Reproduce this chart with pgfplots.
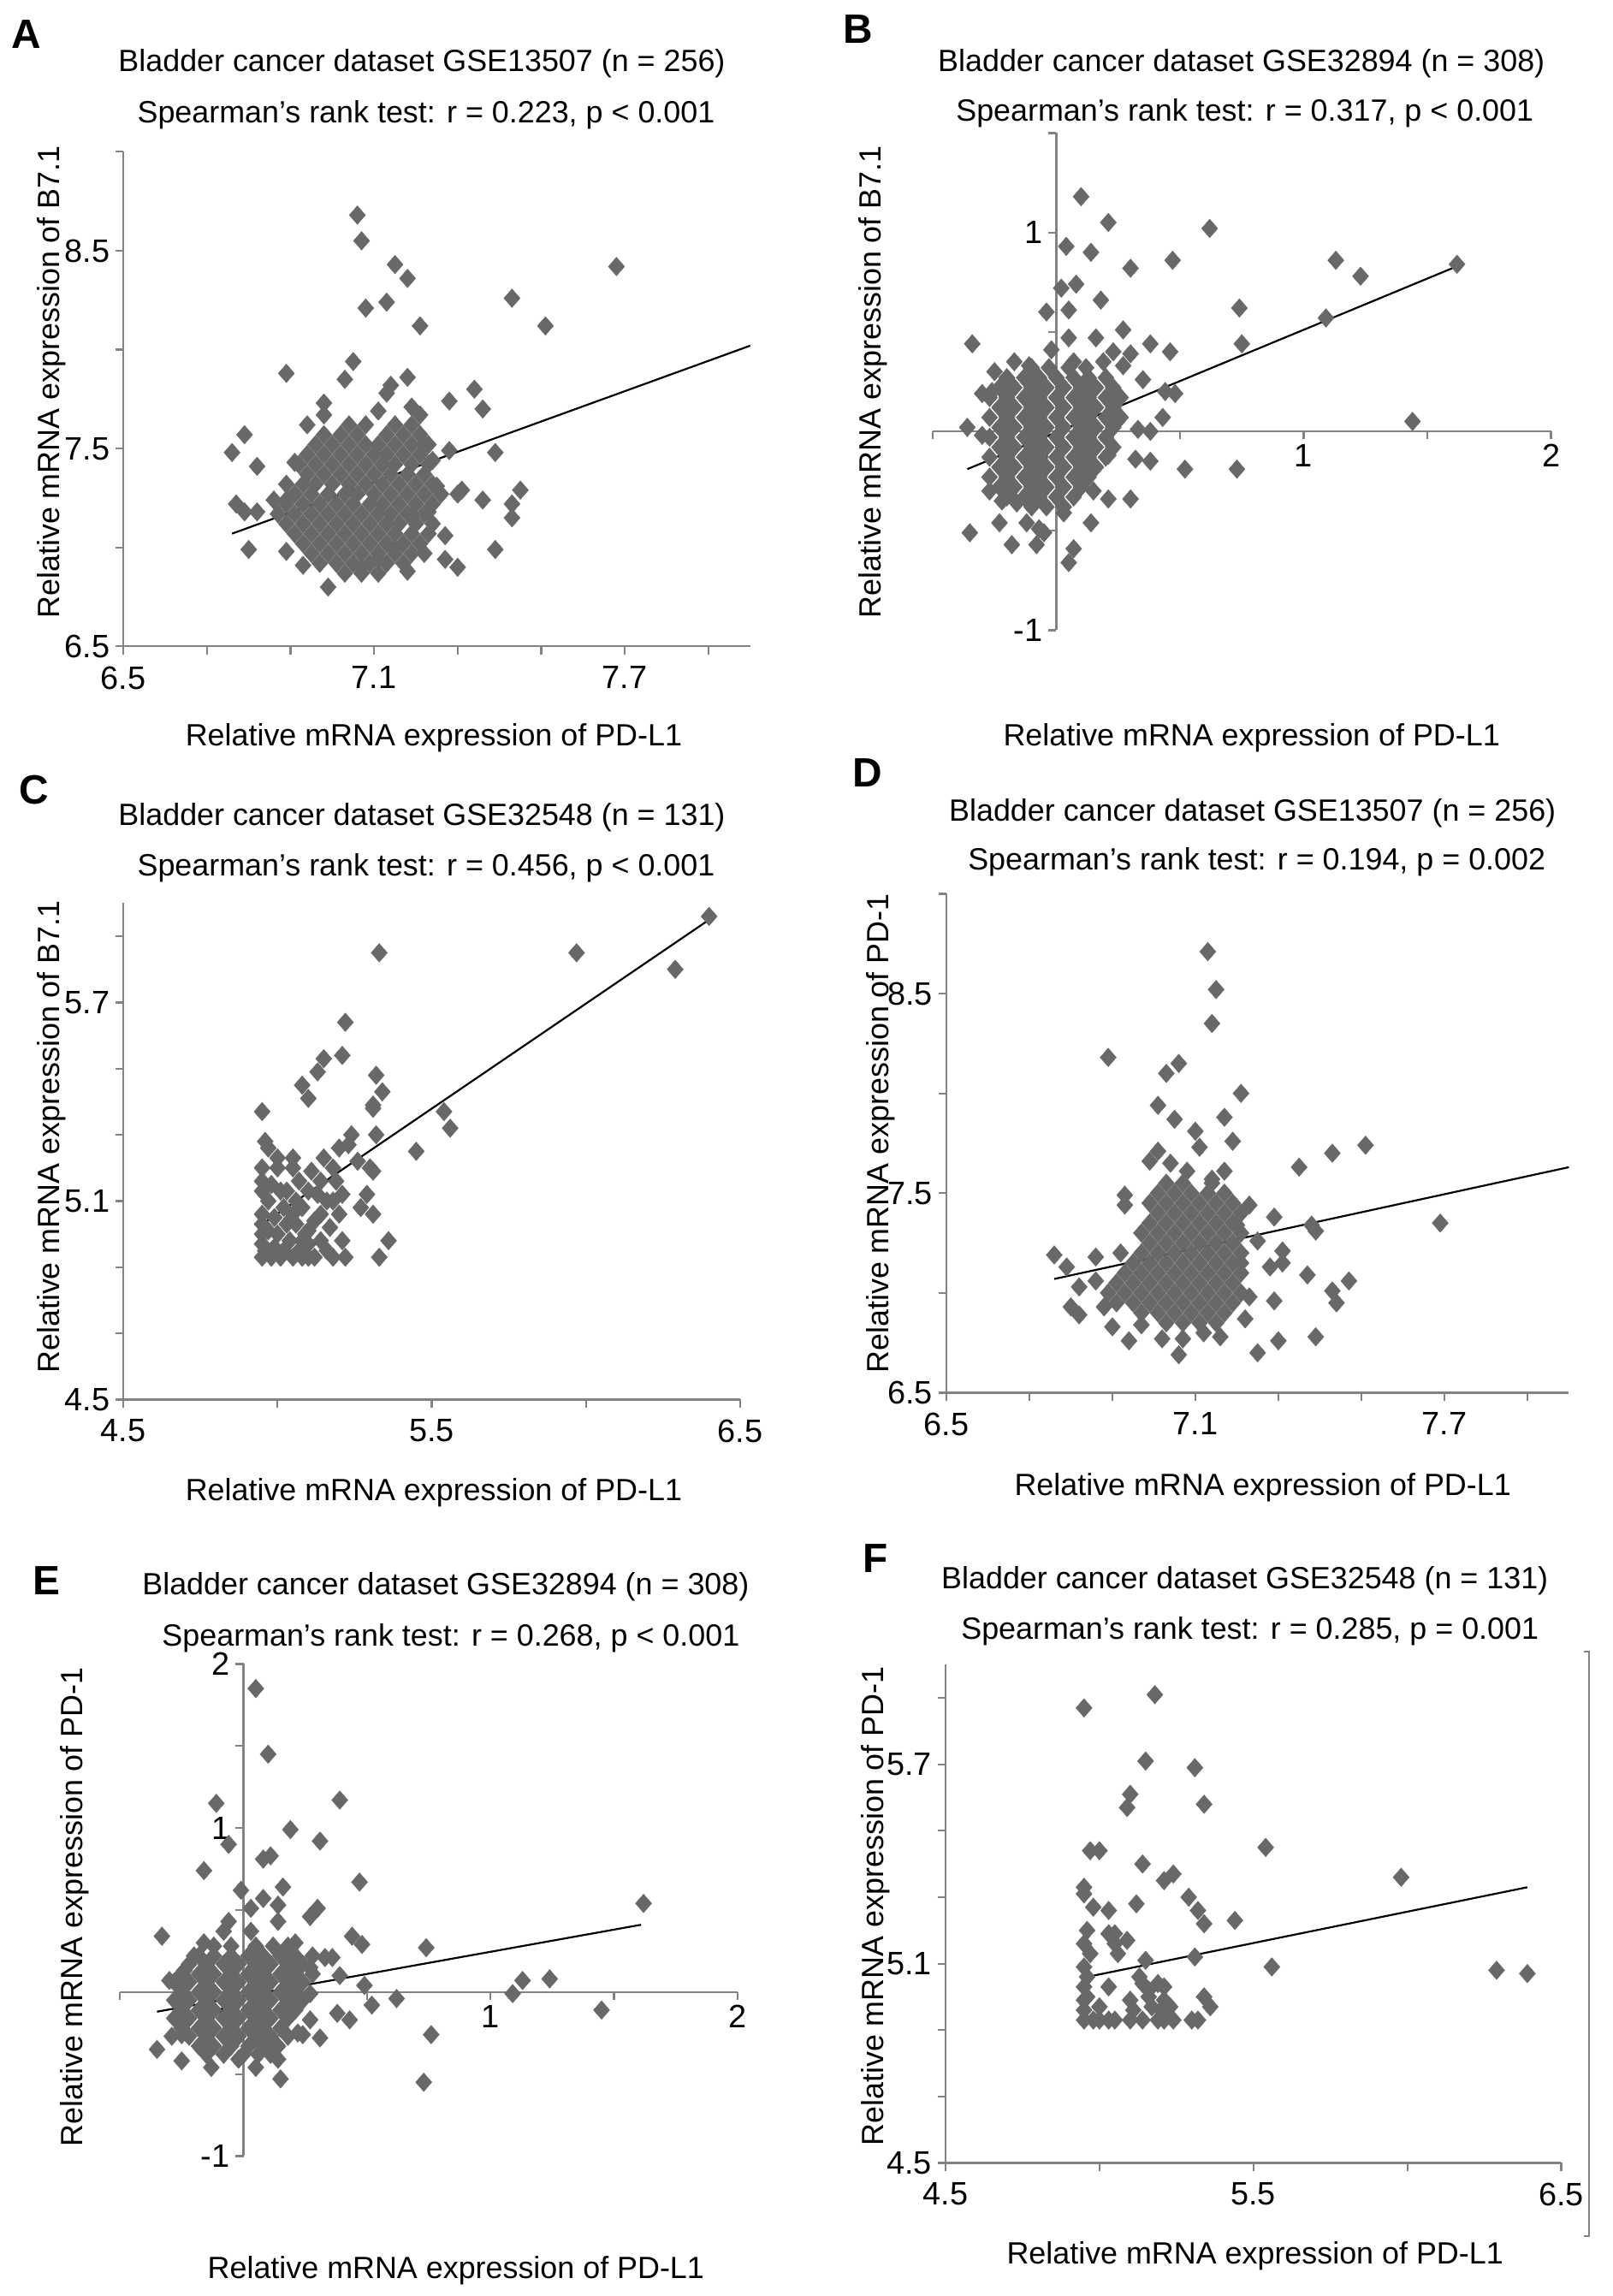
\documentclass[border=0pt]{standalone}
\usepackage{fontspec}
\setmainfont{Liberation Sans}
\usepackage{pgfplots}
\pgfplotsset{compat=1.18}
\definecolor{mk}{RGB}{104,104,104}
\definecolor{ax}{RGB}{130,130,130}
\pgfplotsset{
  panel/.style={scale only axis, anchor=south west, clip=false,
    axis line style={ax, line width=0.55pt},
    tick style={ax, line width=0.55pt},
    tick align=outside, major tick length=2.3pt,
    tick label style={font=\fontsize{9.5}{11}\selectfont, black},
    yticklabel style={xshift=1.8pt},
    /pgf/number format/assume math mode=true},
  boxed/.style={panel, axis lines*=left},
  mid/.style={panel, axis lines*=middle, hide obscured x ticks=false, hide obscured y ticks=false,
    xticklabel style={yshift=2pt}},
  pts/.style={only marks, mark=square*, mark size=1.68pt, color=mk,
    mark options={yscale=1.15, rotate=45, fill=mk, draw=mk, line width=0.1pt}},
  fit/.style={black, line width=0.55pt, no marks},
}
\newcommand\tf{\fontsize{9}{11}\selectfont}
\newcommand\lf{\fontsize{12}{14}\selectfont\bfseries}
\begin{document}
\begin{tikzpicture}
\path (0,0) rectangle (472.5pt,670.75pt);
% ---------------- Panel A ----------------
\node[font=\lf] at (7.5pt,660.75pt) {A};
\node[font=\tf] at (123.5pt,652pt) {Bladder cancer dataset GSE13507 (n = 256)};
\node[font=\tf] at (124.75pt,637pt) {Spearman’s rank test: r = 0.223, p < 0.001};
\node[font=\tf, rotate=90] at (15pt,558.75pt) {Relative mRNA expression of B7.1};
\node[font=\tf] at (127pt,454.5pt) {Relative mRNA expression of PD-L1};
\begin{axis}[boxed, at={(36pt,481.25pt)}, width=183.75pt, height=145pt,
  xmin=6.5, xmax=8.0, ymin=6.5, ymax=9.0,
  xtick={6.5,6.7,6.9,7.1,7.3,7.5,7.7,7.9}, xticklabels={6.5,,,7.1,,,7.7,},
  ytick={6.5,7,7.5,8,8.5,9}, yticklabels={6.5,,7.5,,8.5,}]
\addplot[pts] coordinates {
(7.06,8.68)(7.07,8.55)(7.15,8.43)(7.18,8.36)(7.13,8.24)(7.08,8.21)(7.21,8.12)(7.43,8.26)(7.51,8.12)(7.68,8.42)
(6.89,7.88)(7.05,7.94)(7.03,7.85)(7.13,7.78)(7.14,7.82)(7.18,7.86)(7.34,7.80)(7.28,7.74)(7.36,7.70)(6.98,7.73)
(6.98,7.67)(6.94,7.62)(7.11,7.69)(7.19,7.71)(7.21,7.67)(6.79,7.57)(6.76,7.48)(6.82,7.41)(6.91,7.43)(7.28,7.49)
(7.39,7.48)(7.22,7.52)(7.24,7.44)(6.77,7.22)(6.79,7.18)(6.82,7.18)(6.86,7.24)(6.89,7.24)(6.80,6.99)(6.89,6.98)
(7.25,7.31)(7.31,7.29)(7.30,7.27)(7.36,7.24)(7.43,7.22)(7.45,7.29)(7.43,7.15)(7.39,6.99)(7.23,7.18)(7.19,7.16)
(7.27,7.06)(7.27,6.94)(7.30,6.90)(7.22,6.97)(7.18,6.88)(6.99,6.80)(6.93,6.91)(7.07,6.90)(7.11,6.94)(7.15,6.99)
(7.04,7.62)(7.08,7.62)(7.15,7.62)(7.19,7.62)
(6.98,7.57)(7.02,7.57)(7.06,7.57)(7.13,7.57)(7.17,7.57)(7.21,7.57)
(6.96,7.52)(7.00,7.52)(7.04,7.52)(7.08,7.52)(7.11,7.52)(7.15,7.52)(7.19,7.52)(7.23,7.52)
(6.94,7.47)(6.98,7.47)(7.02,7.47)(7.06,7.47)(7.10,7.47)(7.13,7.47)(7.17,7.47)(7.21,7.47)
(6.92,7.42)(6.96,7.42)(7.00,7.42)(7.04,7.42)(7.08,7.42)(7.12,7.42)(7.15,7.42)(7.19,7.42)(7.23,7.42)
(6.94,7.37)(6.98,7.37)(7.02,7.37)(7.06,7.37)(7.10,7.37)(7.14,7.37)(7.18,7.37)(7.22,7.37)
(6.89,7.32)(6.93,7.32)(6.96,7.32)(7.00,7.32)(7.04,7.32)(7.08,7.32)(7.12,7.32)(7.16,7.32)(7.20,7.32)(7.24,7.32)
(6.91,7.27)(6.95,7.27)(6.99,7.27)(7.03,7.27)(7.06,7.27)(7.10,7.27)(7.14,7.27)(7.18,7.27)(7.22,7.27)(7.26,7.27)
(6.89,7.22)(6.93,7.22)(6.97,7.22)(7.01,7.22)(7.05,7.22)(7.09,7.22)(7.12,7.22)(7.16,7.22)(7.20,7.22)(7.24,7.22)
(6.87,7.17)(6.91,7.17)(6.95,7.17)(6.99,7.17)(7.03,7.17)(7.07,7.17)(7.11,7.17)(7.14,7.17)(7.18,7.17)(7.22,7.17)
(6.89,7.12)(6.93,7.12)(6.97,7.12)(7.01,7.12)(7.05,7.12)(7.09,7.12)(7.13,7.12)(7.16,7.12)(7.20,7.12)(7.24,7.12)
(6.91,7.07)(6.95,7.07)(6.99,7.07)(7.03,7.07)(7.07,7.07)(7.11,7.07)(7.15,7.07)(7.19,7.07)(7.23,7.07)
(6.93,7.02)(6.97,7.02)(7.01,7.02)(7.05,7.02)(7.09,7.02)(7.13,7.02)(7.17,7.02)(7.21,7.02)
(6.95,6.97)(6.99,6.97)(7.03,6.97)(7.07,6.97)(7.11,6.97)(7.15,6.97)(7.19,6.97)
(6.97,6.92)(7.01,6.92)(7.05,6.92)(7.09,6.92)(7.13,6.92)(7.17,6.92)
(7.03,6.87)(7.07,6.87)(7.11,6.87)
};
\addplot[fit] coordinates {(6.76,7.07)(8.0,8.02)};
\end{axis}
% ---------------- Panel B ----------------
\node[font=\lf] at (251.25pt,662.25pt) {B};
\node[font=\tf] at (363.75pt,652pt) {Bladder cancer dataset GSE32894 (n = 308)};
\node[font=\tf] at (364.75pt,637.5pt) {Spearman’s rank test: r = 0.317, p < 0.001};
\node[font=\tf, rotate=90] at (255.75pt,558.75pt) {Relative mRNA expression of B7.1};
\node[font=\tf] at (366.75pt,454.5pt) {Relative mRNA expression of PD-L1};
\begin{axis}[mid, at={(273.25pt,486pt)}, width=181.25pt, height=145.75pt,
  xmin=-0.5, xmax=2, ymin=-1, ymax=1.5,
  xtick={-0.5,0,0.5,1,1.5,2}, xticklabels={,\makebox[0pt][r]{0\hspace{1.9pt}},,1,,2},
  ytick={-1,-0.5,0,0.5,1,1.5}, yticklabels={-1,,,,1,}]
\addplot[pts] coordinates {
(0.10,1.18)(0.21,1.05)(0.62,1.02)(0.04,0.93)(0.14,0.90)(0.30,0.82)(0.47,0.86)(1.13,0.86)(1.23,0.78)(1.62,0.84)
(0.02,0.72)(0.08,0.74)(0.18,0.66)(-0.04,0.60)(0.05,0.61)(0.74,0.62)(1.09,0.57)(0.27,0.51)(-0.34,0.44)(0.05,0.47)
(0.16,0.47)(0.38,0.44)(0.75,0.44)(0.46,0.40)(0.23,0.40)(0.30,0.39)(-0.02,0.41)(-0.17,0.35)(-0.25,0.30)(-0.11,0.33)
(0.07,0.35)(0.19,0.35)(0.27,0.33)(0.35,0.26)(-0.30,0.19)(-0.26,0.20)(0.44,0.20)(0.48,0.19)(0.43,0.07)(0.38,0.00)
(0.33,0.01)(-0.36,0.02)(-0.30,-0.02)(1.44,0.05)(0.52,-0.19)(0.73,-0.19)(0.21,-0.12)(0.32,-0.14)(0.38,-0.15)(0.30,-0.34)
(0.21,-0.34)(0.15,-0.30)(0.14,-0.46)(0.03,-0.41)(-0.07,-0.49)(-0.12,-0.46)(-0.23,-0.46)(-0.35,-0.51)(-0.18,-0.57)(-0.08,-0.57)
(-0.05,-0.51)(0.07,-0.59)(0.05,-0.66)(-0.27,-0.30)(-0.22,-0.35)(-0.16,-0.36)
(-0.10,0.32)(-0.03,0.32)(0.05,0.32)(0.12,0.32)
(-0.20,0.27)(-0.13,0.27)(-0.07,0.27)(0.00,0.27)(0.07,0.27)(0.13,0.27)(0.20,0.27)
(-0.23,0.22)(-0.17,0.22)(-0.10,0.22)(-0.04,0.22)(0.03,0.22)(0.10,0.22)(0.16,0.22)(0.23,0.22)
(-0.27,0.17)(-0.20,0.17)(-0.13,0.17)(-0.07,0.17)(0.00,0.17)(0.07,0.17)(0.13,0.17)(0.20,0.17)(0.26,0.17)
(-0.23,0.12)(-0.17,0.12)(-0.10,0.12)(-0.04,0.12)(0.03,0.12)(0.10,0.12)(0.16,0.12)(0.23,0.12)
(-0.27,0.07)(-0.20,0.07)(-0.13,0.07)(-0.07,0.07)(0.00,0.07)(0.07,0.07)(0.13,0.07)(0.20,0.07)(0.26,0.07)
(-0.23,0.02)(-0.17,0.02)(-0.10,0.02)(-0.04,0.02)(0.03,0.02)(0.10,0.02)(0.16,0.02)(0.23,0.02)
(-0.27,-0.03)(-0.20,-0.03)(-0.13,-0.03)(-0.07,-0.03)(0.00,-0.03)(0.07,-0.03)(0.13,-0.03)(0.20,-0.03)
(-0.23,-0.08)(-0.17,-0.08)(-0.10,-0.08)(-0.04,-0.08)(0.03,-0.08)(0.10,-0.08)(0.16,-0.08)(0.23,-0.08)
(-0.27,-0.13)(-0.20,-0.13)(-0.13,-0.13)(-0.07,-0.13)(0.00,-0.13)(0.07,-0.13)(0.13,-0.13)(0.20,-0.13)
(-0.23,-0.18)(-0.17,-0.18)(-0.10,-0.18)(-0.04,-0.18)(0.03,-0.18)(0.10,-0.18)(0.16,-0.18)
(-0.27,-0.23)(-0.20,-0.23)(-0.13,-0.23)(-0.07,-0.23)(0.00,-0.23)(0.07,-0.23)(0.13,-0.23)
(-0.23,-0.28)(-0.17,-0.28)(-0.10,-0.28)(-0.04,-0.28)(0.03,-0.28)(0.10,-0.28)
(-0.20,-0.33)(-0.13,-0.33)(-0.07,-0.33)(0.00,-0.33)(0.07,-0.33)
(-0.10,-0.38)(-0.04,-0.38)(0.03,-0.38)
};
\addplot[fit] coordinates {(-0.36,-0.19)(1.62,0.83)};
\end{axis}
% ---------------- Panel C ----------------
\node[font=\lf] at (9.75pt,439.25pt) {C};
\node[font=\tf] at (123.5pt,431.25pt) {Bladder cancer dataset GSE32548 (n = 131)};
\node[font=\tf] at (124.75pt,416.25pt) {Spearman’s rank test: r = 0.456, p < 0.001};
\node[font=\tf, rotate=90] at (15pt,337.5pt) {Relative mRNA expression of B7.1};
\node[font=\tf] at (127pt,233.25pt) {Relative mRNA expression of PD-L1};
\begin{axis}[boxed, at={(36pt,260.5pt)}, width=180.75pt, height=145.5pt,
  xmin=4.5, xmax=6.5, ymin=4.5, ymax=6.0,
  xtick={4.5,5,5.5,6,6.5}, xticklabels={4.5,,5.5,,6.5},
  ytick={4.5,4.7,4.9,5.1,5.3,5.5,5.7,5.9}, yticklabels={4.5,,,5.1,,,5.7,}]
\addplot[pts] coordinates {
(6.40,5.96)(5.97,5.85)(6.29,5.80)(5.33,5.85)(5.22,5.64)(5.21,5.54)(5.15,5.53)(5.13,5.49)(5.08,5.45)(5.10,5.41)
(5.32,5.48)(5.34,5.43)(5.31,5.39)(5.31,5.38)(4.95,5.37)(5.54,5.37)(5.56,5.32)(5.45,5.25)(5.32,5.30)(5.24,5.30)
(5.23,5.27)(5.20,5.26)(4.96,5.28)(4.97,5.26)(5.00,5.23)(5.05,5.23)(4.95,5.20)(5.00,5.20)(5.05,5.20)(5.15,5.23)
(5.11,5.19)(5.07,5.16)(5.14,5.16)(5.19,5.16)(5.30,5.20)(5.31,5.19)(4.95,5.16)(4.95,5.13)(4.98,5.15)(5.03,5.13)
(5.10,5.13)(5.29,5.12)(5.16,5.10)(5.20,5.06)(5.14,5.06)(5.08,5.08)(5.31,5.06)(4.95,5.06)(4.99,5.05)(5.03,5.03)
(5.06,5.03)(4.95,5.03)(4.95,5.00)(5.00,5.00)(5.04,4.98)(5.10,5.01)(5.14,4.98)(5.21,4.98)(5.36,4.98)(4.95,4.97)
(4.99,4.96)(5.10,4.97)
(4.95,4.93)(4.98,4.93)(5.01,4.93)(5.05,4.93)(5.08,4.93)(5.10,4.93)(5.12,4.93)(5.18,4.93)(5.22,4.93)(5.33,4.93)
(4.96,4.95)(5.02,4.95)(5.07,4.95)
(5.02,5.08)(5.06,5.10)(4.97,5.10)(5.01,5.13)(5.09,5.00)(5.12,5.04)(5.17,5.02)(5.05,5.06)(4.97,5.01)(5.08,4.98)
(5.16,4.95)(5.13,5.12)(5.18,5.20)(5.26,5.22)(5.27,5.08)(5.21,5.12)(5.18,5.10)
};
\addplot[fit] coordinates {(4.95,5.03)(6.40,5.95)};
\end{axis}
% ---------------- Panel D ----------------
\node[font=\lf] at (254.25pt,444.25pt) {D};
\node[font=\tf] at (367pt,432.5pt) {Bladder cancer dataset GSE13507 (n = 256)};
\node[font=\tf] at (368.25pt,418pt) {Spearman’s rank test: r = 0.194, p = 0.002};
\node[font=\tf, rotate=90] at (258pt,338.5pt) {Relative mRNA expression of PD-1};
\node[font=\tf] at (370pt,234.75pt) {Relative mRNA expression of PD-L1};
\begin{axis}[boxed, at={(277.25pt,262.5pt)}, width=182.5pt, height=146.25pt,
  xmin=6.5, xmax=8.0, ymin=6.5, ymax=9.0,
  xtick={6.5,6.7,6.9,7.1,7.3,7.5,7.7,7.9}, xticklabels={6.5,,,7.1,,,7.7,},
  ytick={6.5,7,7.5,8,8.5,9}, yticklabels={6.5,,7.5,,8.5,}]
\addplot[pts] coordinates {
(7.13,8.71)(7.15,8.52)(7.14,8.35)(6.89,8.18)(7.06,8.15)(7.03,8.10)(7.21,8.00)(7.01,7.94)(7.05,7.87)(7.17,7.88)
(7.10,7.81)(7.11,7.73)(7.19,7.76)(7.43,7.70)(7.51,7.74)(7.35,7.63)(6.99,7.66)(7.01,7.71)(7.04,7.65)(7.08,7.61)
(7.17,7.61)(7.14,7.57)(6.93,7.49)(6.93,7.44)(7.29,7.38)(7.69,7.35)(7.38,7.34)(7.39,7.31)(7.23,7.44)(7.20,7.34)
(7.25,7.26)(6.76,7.19)(6.79,7.13)(6.86,7.18)(6.92,7.20)(6.82,7.03)(6.86,7.06)(6.80,6.93)(6.82,6.89)(6.88,6.93)
(6.90,6.83)(6.94,6.76)(6.97,6.84)(7.02,6.77)(7.06,6.69)(7.07,6.77)(7.12,6.80)(7.16,6.78)(7.25,6.70)(7.30,6.76)
(7.39,6.78)(7.37,7.09)(7.43,7.01)(7.44,6.95)(7.47,7.06)(7.29,6.96)(7.23,6.98)(7.22,6.87)(7.31,7.15)(7.28,7.13)
(7.21,7.15)(7.31,7.21)
(7.03,7.55)(7.07,7.55)(7.14,7.55)
(7.01,7.50)(7.05,7.50)(7.09,7.50)(7.13,7.50)(7.17,7.50)
(6.99,7.45)(7.03,7.45)(7.07,7.45)(7.11,7.45)(7.15,7.45)(7.19,7.45)
(7.01,7.40)(7.05,7.40)(7.09,7.40)(7.13,7.40)(7.17,7.40)(7.21,7.40)
(6.99,7.35)(7.03,7.35)(7.07,7.35)(7.11,7.35)(7.15,7.35)(7.19,7.35)
(6.97,7.30)(7.01,7.30)(7.05,7.30)(7.09,7.30)(7.13,7.30)(7.17,7.30)(7.21,7.30)
(6.99,7.25)(7.03,7.25)(7.07,7.25)(7.11,7.25)(7.15,7.25)(7.19,7.25)
(6.97,7.20)(7.01,7.20)(7.05,7.20)(7.09,7.20)(7.13,7.20)(7.17,7.20)(7.21,7.20)
(6.95,7.15)(6.99,7.15)(7.03,7.15)(7.07,7.15)(7.11,7.15)(7.15,7.15)(7.19,7.15)
(6.93,7.10)(6.97,7.10)(7.01,7.10)(7.05,7.10)(7.09,7.10)(7.13,7.10)(7.17,7.10)(7.21,7.10)
(6.91,7.05)(6.95,7.05)(6.99,7.05)(7.03,7.05)(7.07,7.05)(7.11,7.05)(7.15,7.05)(7.19,7.05)
(6.89,7.00)(6.93,7.00)(6.97,7.00)(7.01,7.00)(7.05,7.00)(7.09,7.00)(7.13,7.00)(7.17,7.00)(7.21,7.00)
(6.91,6.95)(6.95,6.95)(6.99,6.95)(7.03,6.95)(7.07,6.95)(7.11,6.95)(7.15,6.95)(7.19,6.95)
(6.97,6.90)(7.01,6.90)(7.05,6.90)(7.09,6.90)(7.13,6.90)(7.17,6.90)
(7.03,6.85)(7.07,6.85)(7.11,6.85)(7.15,6.85)
};
\addplot[fit] coordinates {(6.76,7.07)(8.0,7.63)};
\end{axis}
% ---------------- Panel E ----------------
\node[font=\lf] at (13.5pt,207.5pt) {E};
\node[font=\tf] at (130.5pt,205.5pt) {Bladder cancer dataset GSE32894 (n = 308)};
\node[font=\tf] at (132pt,190.5pt) {Spearman’s rank test: r = 0.268, p < 0.001};
\node[font=\tf, rotate=90] at (21.75pt,111.75pt) {Relative mRNA expression of PD-1};
\node[font=\tf] at (133.5pt,5.25pt) {Relative mRNA expression of PD-L1};
\begin{axis}[mid, at={(35pt,38.75pt)}, width=181pt, height=144.25pt,
  xmin=-0.5, xmax=2, ymin=-1, ymax=2,
  xtick={-0.5,0,0.5,1,1.5,2}, xticklabels={,\makebox[0pt][r]{0\hspace{1.9pt}},,1,,2},
  ytick={-1,-0.5,0,0.5,1,1.5,2}, yticklabels={-1,,,,1,,2}]
\addplot[pts] coordinates {
(0.05,1.85)(0.10,1.45)(0.39,1.17)(-0.11,1.15)(0.19,0.99)(0.31,0.92)(-0.06,0.90)(0.08,0.81)(0.11,0.83)(-0.16,0.74)
(0.47,0.67)(0.16,0.64)(-0.01,0.62)(1.62,0.54)(0.08,0.57)(0.14,0.53)(0.03,0.51)(0.30,0.51)(0.27,0.46)(0.14,0.43)
(-0.06,0.43)(-0.08,0.37)(0.03,0.37)(-0.33,0.34)(0.44,0.34)(0.48,0.29)(-0.16,0.30)(0.74,0.27)(0.21,0.30)(-0.20,0.22)
(-0.24,0.13)(-0.30,0.07)(0.33,0.21)(0.36,0.21)(0.27,0.15)(0.39,0.10)(0.49,0.04)(1.13,0.07)(1.24,0.08)(1.09,-0.01)
(0.62,-0.04)(0.52,-0.08)(0.27,-0.01)(1.45,-0.11)(0.38,-0.13)(0.43,-0.17)(0.27,-0.17)(0.22,-0.25)(0.24,-0.26)(0.31,-0.28)
(0.76,-0.26)(0.73,-0.55)(0.15,-0.53)(0.14,-0.41)(0.05,-0.46)(-0.02,-0.41)(-0.13,-0.46)(-0.25,-0.42)(-0.35,-0.35)(-0.29,-0.27)
(-0.25,-0.26)
(-0.12,0.28)(-0.05,0.28)(0.05,0.28)(0.12,0.28)(0.18,0.28)
(-0.18,0.22)(-0.12,0.22)(-0.05,0.22)(0.02,0.22)(0.08,0.22)(0.15,0.22)(0.21,0.22)(0.28,0.22)
(-0.22,0.17)(-0.15,0.17)(-0.08,0.17)(-0.02,0.17)(0.05,0.17)(0.11,0.17)(0.18,0.17)(0.24,0.17)
(-0.25,0.11)(-0.18,0.11)(-0.12,0.11)(-0.05,0.11)(0.02,0.11)(0.08,0.11)(0.15,0.11)(0.21,0.11)(0.28,0.11)
(-0.28,0.06)(-0.22,0.06)(-0.15,0.06)(-0.08,0.06)(-0.02,0.06)(0.05,0.06)(0.11,0.06)(0.18,0.06)(0.24,0.06)
(-0.25,0.00)(-0.18,0.00)(-0.12,0.00)(-0.05,0.00)(0.02,0.00)(0.08,0.00)(0.15,0.00)(0.21,0.00)
(-0.28,-0.05)(-0.22,-0.05)(-0.15,-0.05)(-0.08,-0.05)(-0.02,-0.05)(0.05,-0.05)(0.11,-0.05)(0.18,-0.05)(0.24,-0.05)
(-0.25,-0.11)(-0.18,-0.11)(-0.12,-0.11)(-0.05,-0.11)(0.02,-0.11)(0.08,-0.11)(0.15,-0.11)(0.21,-0.11)
(-0.28,-0.16)(-0.22,-0.16)(-0.15,-0.16)(-0.08,-0.16)(-0.02,-0.16)(0.05,-0.16)(0.11,-0.16)(0.18,-0.16)
(-0.25,-0.22)(-0.18,-0.22)(-0.12,-0.22)(-0.05,-0.22)(0.02,-0.22)(0.08,-0.22)(0.15,-0.22)
(-0.22,-0.27)(-0.15,-0.27)(-0.08,-0.27)(-0.02,-0.27)(0.05,-0.27)(0.11,-0.27)(0.18,-0.27)
(-0.18,-0.33)(-0.12,-0.33)(-0.05,-0.33)(0.02,-0.33)(0.08,-0.33)(0.14,-0.33)
(-0.15,-0.38)(-0.08,-0.38)(0.00,-0.38)(0.06,-0.38)(0.11,-0.38)
};
\addplot[fit] coordinates {(-0.35,-0.12)(1.61,0.41)};
\end{axis}
% ---------------- Panel F ----------------
\node[font=\lf] at (256.5pt,214pt) {F};
\node[font=\tf] at (364.75pt,207.5pt) {Bladder cancer dataset GSE32548 (n = 131)};
\node[font=\tf] at (366.25pt,192.5pt) {Spearman’s rank test: r = 0.285, p = 0.001};
\node[font=\tf, rotate=90] at (256.5pt,112pt) {Relative mRNA expression of PD-1};
\node[font=\tf] at (367.75pt,9.5pt) {Relative mRNA expression of PD-L1};
\draw[ax, line width=0.5pt] (464.25pt,186.5pt) -- (465.75pt,186.5pt) -- (465.75pt,15.25pt) -- (464.25pt,15.25pt);
\begin{axis}[boxed, at={(277pt,36.75pt)}, width=180.5pt, height=146pt,
  xmin=4.5, xmax=6.5, ymin=4.5, ymax=6.0,
  xtick={4.5,5,5.5,6,6.5}, xticklabels={4.5,,5.5,,6.5},
  ytick={4.5,4.7,4.9,5.1,5.3,5.5,5.7,5.9}, yticklabels={4.5,,,5.1,,,5.7,}]
\addplot[pts] coordinates {
(5.18,5.91)(4.95,5.87)(5.15,5.71)(5.31,5.69)(5.10,5.61)(5.09,5.57)(5.34,5.58)(5.54,5.45)(4.97,5.44)(5.00,5.44)
(5.14,5.40)(5.21,5.35)(5.24,5.37)(5.98,5.36)(4.95,5.33)(4.95,5.31)(5.29,5.30)(5.12,5.28)(4.98,5.27)(5.03,5.26)
(5.32,5.26)(5.34,5.22)(5.44,5.23)(4.96,5.20)(4.95,5.16)(5.03,5.19)(5.05,5.19)(5.09,5.17)(5.05,5.16)(5.06,5.13)
(5.15,5.11)(5.31,5.12)(5.56,5.09)(6.29,5.08)(6.39,5.07)(4.95,5.09)(4.96,5.06)(5.03,5.03)(5.14,5.04)(5.19,5.04)
(5.21,5.03)(4.95,5.03)(4.95,4.99)(5.10,4.99)(5.16,5.00)(5.21,4.99)(5.34,5.00)(5.36,4.97)(4.95,4.96)(5.11,4.96)
(5.20,4.96)(5.21,4.95)
(4.95,4.93)(4.98,4.93)(5.00,4.93)(5.03,4.93)(5.05,4.93)(5.10,4.93)(5.14,4.93)(5.19,4.93)(5.21,4.93)(5.24,4.93)
(5.30,4.93)(5.32,4.93)
(4.97,5.13)(4.96,5.00)(5.00,4.97)(5.17,4.97)(5.23,4.97)(5.13,5.06)(5.16,5.02)
};
\addplot[fit] coordinates {(4.96,5.06)(6.39,5.33)};
\end{axis}
\end{tikzpicture}
\end{document}
